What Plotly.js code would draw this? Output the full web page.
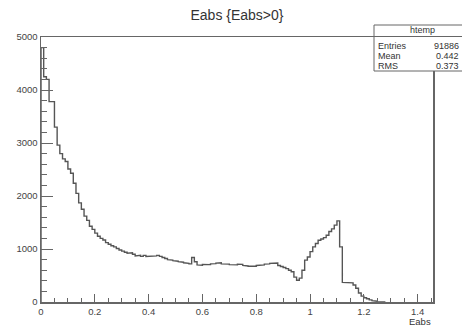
<!DOCTYPE html>
<html>
<head>
<meta charset="utf-8">
<script src="https://cdn.plot.ly/plotly-3.0.1.min.js"></script>
<style>html,body{margin:0;padding:0;background:#fff;overflow:hidden}#chart{width:462px;height:327px}</style>
</head>
<body>
<div id="chart"></div>
<script>
// Histogram of Eabs (Eabs>0), bin width 0.01 starting at 0
const binStart = 0.0;
const binWidth = 0.01;
const counts = [
  4800, 4250, 4200, 3780, 3780, 3300, 2960, 2800, 2700, 2650,
  2510, 2430, 2240, 2050, 1870, 1750, 1620, 1540, 1430, 1370,
  1300, 1240, 1200, 1170, 1120, 1090, 1060, 1040, 1010, 980,
  960, 940, 920, 930, 900, 870, 880, 860, 880, 860,
  870, 860, 870, 880, 860, 840, 820, 800, 790, 780,
  770, 760, 750, 740, 730, 720, 840, 760, 700, 695,
  710, 715, 705, 720, 725, 735, 740, 720, 710, 715,
  705, 695, 700, 715, 710, 690, 680, 675, 680, 675,
  690, 695, 700, 715, 720, 730, 740, 735, 690, 670,
  650, 630, 600, 570, 470, 410, 450, 600, 790, 850,
  950, 1040, 1105, 1165, 1190, 1215, 1260, 1330, 1380, 1450,
  1530, 1040, 370, 370, 370, 360, 320, 260, 170, 110,
  80, 60, 40, 25, 15, 8, 4, 0
];
const xTickVals = [0, 0.2, 0.4, 0.6, 0.8, 1, 1.2, 1.4];
const xTickText = ["0", "0.2", "0.4", "0.6", "0.8", "1", "1.2", "1.4"];
const yTickVals = [0, 1000, 2000, 3000, 4000, 5000];
const yTickText = ["0", "1000", "2000", "3000", "4000", "5000"];
const statName = "htemp";
const statLabels = ["Entries", "Mean", "RMS"];
const statValues = ["91886", "0.442", "0.373"];
const titleText = "Eabs {Eabs>0}";
const xTitle = "Eabs";

// step outline built from bin edges
const xs = [binStart], ys = [0];
for (let i = 0; i < counts.length; i++) {
  const lo = binStart + i * binWidth;
  xs.push(lo); ys.push(counts[i]);
  xs.push(lo + binWidth); ys.push(counts[i]);
}
xs.push(binStart + counts.length * binWidth); ys.push(0);

const W = 462, H = 327, L = 41, R = 29, T = 37, B = 25;
const pw = W - L - R, ph = H - T - B;
const PX = x => (x - L) / pw;
const PY = y => (H - B - y) / ph;
const font = "Liberation Sans, Arial, sans-serif";
const gray = "#666";
const sf = {family:font, size:9, color:"#333"};

const annotations = [
  {xref:"paper", yref:"paper", x:PX(422), y:PY(30.5), text:statName, showarrow:false,
   xanchor:"center", yanchor:"middle", font:sf},
];
statLabels.forEach((lab, i) => {
  const yy = 46 + i * 10;
  annotations.push({xref:"paper", yref:"paper", x:PX(376), y:PY(yy), text:lab, showarrow:false,
    xanchor:"left", yanchor:"middle", font:sf});
  annotations.push({xref:"paper", yref:"paper", x:PX(461), y:PY(yy), text:statValues[i], showarrow:false,
    xanchor:"right", yanchor:"middle", font:sf});
});
annotations.push({xref:"paper", yref:"paper", x:1, y:PY(321.5), text:xTitle, showarrow:false,
  xanchor:"right", yanchor:"middle", font:{family:font, size:9.5, color:"#333"}});

const shapes = [
  {type:"rect", xref:"paper", yref:"paper", x0:PX(374), x1:PX(485), y0:PY(25), y1:PY(71),
   line:{color:gray, width:1}, fillcolor:"#fff", layer:"above"},
  {type:"line", xref:"paper", yref:"paper", x0:PX(374), x1:PX(485), y0:PY(36.5), y1:PY(36.5),
   line:{color:gray, width:1}, layer:"above"},
];

const trace = {
  type:"scatter", mode:"lines", x:xs, y:ys,
  line:{color:"#555", width:1.4, shape:"linear"},
  hoverinfo:"skip", cliponaxis:true
};

const layout = {
  width:W, height:H,
  margin:{l:L, r:R, t:T, b:B, pad:0},
  paper_bgcolor:"#fff", plot_bgcolor:"#fff",
  showlegend:false,
  title:{text:titleText, font:{family:font, size:14, color:"#333"},
         xref:"paper", x:0.5, xanchor:"center", yref:"container", y:1 - 15/H, yanchor:"middle"},
  xaxis:{range:[0, 1.457], tickvals:xTickVals, ticktext:xTickText,
         ticks:"inside", ticklen:8, tickwidth:1, tickcolor:gray,
         minor:{ticks:"inside", ticklen:4, tickwidth:1, tickcolor:gray, dtick:0.05, showgrid:false},
         showline:true, linecolor:gray, linewidth:1.5, mirror:true,
         showgrid:false, zeroline:false, fixedrange:true,
         tickfont:{family:font, size:9.5, color:"#444"}, ticklabelstandoff:0},
  yaxis:{range:[0, 5000], tickvals:yTickVals, ticktext:yTickText,
         ticks:"inside", ticklen:12, tickwidth:1, tickcolor:gray,
         minor:{ticks:"inside", ticklen:6, tickwidth:1, tickcolor:gray, dtick:200, showgrid:false},
         showline:true, linecolor:gray, linewidth:1.5, mirror:true,
         showgrid:false, zeroline:false, fixedrange:true,
         tickfont:{family:font, size:9.5, color:"#444"}, ticklabelstandoff:0},
  annotations:annotations,
  shapes:shapes
};

Plotly.newPlot("chart", [trace], layout, {staticPlot:true, displayModeBar:false});
</script>
</body>
</html>
